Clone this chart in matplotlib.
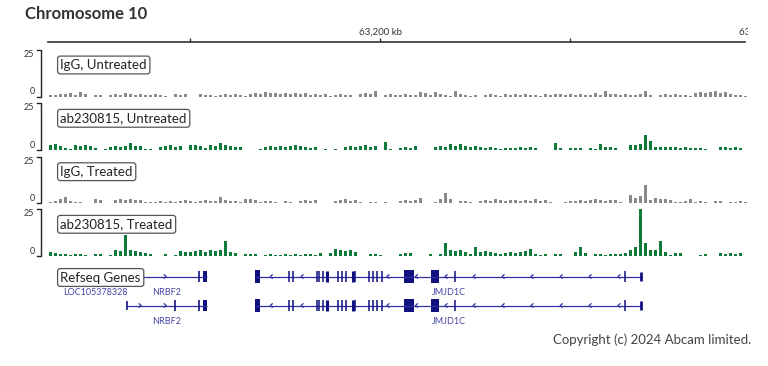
import numpy as np
import matplotlib
matplotlib.use("Agg")
import matplotlib.pyplot as plt
from matplotlib.patches import Rectangle
import matplotlib.transforms as mtransforms

plt.rcParams['font.family'] = ['Lato', 'DejaVu Sans']

# ---- data (kb on chr10, signal 0-25) ----
X_START, X_END = 63112.6, 63296.8
N_BINS = 140

igg_untreated = [
    1, 1, 1.5, 1.5, 2, 1, 2.5, 1.5, 0, 1, 1, 0, 1, 1.5, 1, 2, 1.5, 1, 1.5, 1,
    1, 1.5, 1, 0.5, 0, 1.5, 1, 1.5, 0, 0, 1.5, 1, 1, 0.5, 1, 1.5, 1, 1.5, 1, 0.5,
    1.5, 2, 1.5, 2.5, 2, 2, 1.5, 2, 1.5, 2, 1.5, 2, 1, 1.5, 1, 1.5, 0.5, 1, 1.5, 1,
    1, 0, 1.5, 2, 1.5, 3, 0, 1, 1.5, 1, 1, 1.5, 1, 1, 2.5, 2, 1, 2.5, 1.5, 1,
    0.5, 3, 1.5, 1, 0.5, 1, 0, 1, 1.5, 1, 0.5, 1.5, 1, 1.5, 1, 1.5, 1, 1, 0.5, 1.5,
    1, 1.5, 1.5, 1, 1.5, 1, 1.5, 1, 1, 2, 1, 3, 1.5, 1.5, 1, 1.5, 1, 1, 1.5, 3,
    1, 0, 1, 1.5, 1, 1.5, 1, 1, 0.5, 2, 2.5, 2, 2.5, 3, 2, 2.5, 1.5, 1, 1, 0.5,
]
ab_untreated = [
    2.5, 3, 2, 1, 0.5, 2.5, 2, 2.5, 2, 1, 0, 0.5, 1.5, 2, 1.5, 2, 4, 2, 2, 0.5,
    0.5, 0, 1.5, 2, 2.5, 1.5, 2, 0, 2.5, 2.5, 2, 1, 2.5, 2, 3.5, 2.5, 2, 1.5, 1.5, 0,
    0, 0, 0.5, 1.5, 2, 1.5, 2, 1.5, 2, 2.5, 2, 1.5, 1, 1.5, 0, 0.5, 0, 0.5, 0, 1.5,
    2, 1.5, 2, 2.5, 1.5, 2, 0, 4.5, 0.5, 0, 1, 1.5, 1, 2, 0, 0, 0, 1.5, 2, 1.5,
    3, 2, 3, 2, 1.5, 2, 1.5, 1, 1.5, 1, 0.5, 1, 1, 1, 1.5, 1, 1.5, 1, 0, 0,
    0, 3.5, 1, 0, 1, 1, 1, 0, 1, 0.5, 3, 1.5, 1.5, 1, 0, 0, 2.5, 2.5, 3, 8,
    5, 1.5, 1.5, 1.5, 1.5, 1.5, 1, 1.5, 1, 1, 1, 0.5, 0, 0, 1.5, 1.5, 1, 1.5, 1, 0,
]
igg_treated = [
    1, 1.5, 2.5, 3.5, 1.5, 1, 0.5, 0, 0, 2.5, 2, 0, 0, 2, 2.5, 2, 2.5, 2, 2, 1,
    0.5, 1, 1.5, 1, 1.5, 1, 1.5, 2, 1.5, 1, 1.5, 2, 1.5, 1.5, 3.5, 2, 1.5, 1.5, 1, 2.5,
    2.5, 2, 0.5, 1.5, 1.5, 1, 0, 1.5, 1, 0, 1.5, 2, 1.5, 2, 0, 0, 0, 1.5, 2, 2.5,
    1.5, 2, 0.5, 0, 1, 1, 0, 1, 0, 0, 1.5, 2, 1.5, 2, 3, 0, 0, 1, 2.5, 5.5,
    2.5, 0, 1.5, 1.5, 1, 0, 1.5, 2, 1.5, 2.5, 2, 1.5, 2, 2, 1.5, 2, 1.5, 2.5, 1.5, 2,
    1, 0, 0, 1, 1.5, 1.5, 2, 1.5, 2, 2.5, 2, 1.5, 2, 2, 1, 0, 4.5, 3, 4, 10,
    2, 3, 2.5, 2.5, 2, 0.5, 1, 1.5, 2.5, 1, 1.5, 0.5, 0, 1.5, 1.5, 0, 1, 1, 1.5, 0.5,
]
ab_treated = [
    2, 1.5, 1, 1, 0.5, 1, 1, 0.5, 0, 1, 1, 0, 0.5, 3, 2.5, 11, 3, 2.5, 2, 1.5,
    1, 0, 0, 1, 0, 0.5, 2.5, 2, 2, 2.5, 3, 2, 3, 2.5, 3, 8, 2, 1.5, 0, 1,
    1, 1, 0, 0.5, 1, 0.5, 0.5, 1, 0.5, 1, 0.5, 1, 1, 0.5, 1.5, 0, 1.5, 4, 3, 2.5,
    3, 2, 0, 0, 1, 1, 0.5, 0, 0, 0, 1, 1.5, 1.5, 0, 0, 0, 1, 0, 1, 7,
    3, 2.5, 3, 2, 1, 5, 2, 2.5, 2, 1.5, 1, 1.5, 2, 1.5, 2, 2.5, 4, 1, 0.5, 1,
    0, 1, 1, 0, 0, 2, 5, 1.5, 0, 1, 1, 0.5, 1, 1, 1, 1.5, 3, 5, 25, 7,
    3, 3, 8, 2, 0.5, 1.5, 1.5, 0, 0, 0, 0.5, 1, 0, 0, 1.5, 1, 1.5, 1, 1.5, 0,
]

track_names = ["IgG, Untreated", "ab230815, Untreated", "IgG, Treated", "ab230815, Treated"]
track_values = [igg_untreated, ab_untreated, igg_treated, ab_treated]
track_colors = ["#8a8a8a", "#0d7a3a", "#8a8a8a", "#0d7a3a"]

ruler_ticks = [63150, 63200, 63250]
ruler_labels = [(63200, "63,200 kb"), (63300, "63,300 kb")]

# refseq genes (kb)
nrbf2_span = (63133.4, 63154.5)
nrbf2_exons = [[63152.4], [63146.1, 63152.4]]
nrbf2_block = (63153.4, 63154.5)
nrbf2_arrows = [[63143.7], [63137.1, 63143.7]]

jmjd1c_span = (63167.4, 63268.7)
jmjd1c_blocks = [(63167.1, 63168.4), (63206.3, 63209.0), (63213.4, 63215.5)]
jmjd1c_exons = [63176.1, 63177.1, 63183.4, 63184.0, 63185.0, 63189.0, 63190.0,
                63191.1, 63193.4, 63197.1, 63198.2, 63199.2, 63200.5, 63219.7, 63264.5]
jmjd1c_thick = [63186.1, 63192.9]
jmjd1c_arrows = [63171.1, 63179.2, 63201.8, 63209.3, 63217.1, 63224.5, 63232.1,
                 63239.7, 63247.4, 63255.0, 63262.6]

gene_labels = [("LOC105378328", 63125.0, 0), ("NRBF2", 63143.9, 0), ("JMJD1C", 63218.2, 0),
               ("NRBF2", 63143.9, 1), ("JMJD1C", 63218.2, 1)]

# ---- layout helpers (pixel coords) ----
W, H = 768, 366
fig = plt.figure(figsize=(W / 100, H / 100), dpi=100)


def px_axes(x0, y0, x1, y1, **kw):
    ax = fig.add_axes([x0 / W, 1 - y1 / H, (x1 - x0) / W, (y1 - y0) / H], **kw)
    ax.patch.set_alpha(0)
    return ax


edges = np.linspace(X_START, X_END, N_BINS + 1)
centers = (edges[:-1] + edges[1:]) / 2
bw = edges[1] - edges[0]

track_tops = [50, 103.3, 156.7, 209.3]
track_h = 46.7

deco = px_axes(0, 0, W, H)
deco.set_xlim(0, W)
deco.set_ylim(H, 0)
deco.axis('off')
deco.set_zorder(5)

for name, vals, col, top in zip(track_names, track_values, track_colors, track_tops):
    ax = px_axes(48, top, 748, top + track_h)
    ax.bar(centers, np.minimum(vals, 25), width=bw * 0.55, color=col, linewidth=0)
    ax.set_xlim(X_START, X_END)
    ax.set_ylim(0, 25)
    ax.axis('off')
    # scale bracket
    bot = top + track_h
    deco.plot([36.7, 40.7, 40.7, 36.7], [top, top, bot, bot], color='#222', lw=1)
    deco.text(34, top + 4.5, "25", ha='right', va='center', fontsize=6.5, color='#333')
    deco.text(35, bot - 5, "0", ha='right', va='center', fontsize=6.5, color='#333')
    deco.text(60.5, top + 15, name, ha='left', va='center', fontsize=9.5, color='#222',
              bbox=dict(boxstyle='round,pad=0.22,rounding_size=0.2', fc='white', ec='#555', lw=0.9))

# ruler (label past the right edge is clipped, as in the browser view)
rx1 = 748
rax = px_axes(48, 22, rx1, 42)
rax.set_xlim(X_START, X_START + (rx1 - 48) / 5 * bw)
for s in ['top', 'left', 'right']:
    rax.spines[s].set_visible(False)
rax.spines['bottom'].set_color('#333')
rax.spines['bottom'].set_linewidth(1.2)
rax.spines['bottom'].set_bounds(X_START, X_START + (745 - 48) / 5 * bw)
rax.set_yticks([])
rax.set_xticks(ruler_ticks)
rax.tick_params(axis='x', direction='in', length=3, width=1, color='#333', labelbottom=False)
trans = mtransforms.blended_transform_factory(rax.transData, rax.transAxes)
for pos, lab in ruler_labels:
    rax.text(pos, 0.5, lab, transform=trans, ha='center', va='center', fontsize=7,
             color='#333', clip_on=True)

# genes
line_c = '#3030a5'
exon_c = '#101080'
label_c = '#4545aa'
gax = px_axes(48, 262, 748, 320)
gax.set_xlim(X_START, X_END)
gax.set_ylim(1.5, -0.5)
gax.axis('off')
adx = 0.5
for row in (0, 1):
    # NRBF2 (+ strand)
    gax.hlines(row, *nrbf2_span, color=line_c, lw=0.9)
    gax.vlines(nrbf2_span[0], row - 0.14, row + 0.14, color=exon_c, lw=1.2)
    gax.vlines(nrbf2_exons[row], row - 0.18, row + 0.18, color=exon_c, lw=1.2)
    gax.add_patch(Rectangle((nrbf2_block[0], row - 0.2), nrbf2_block[1] - nrbf2_block[0], 0.4,
                            color=exon_c, lw=0))
    for a in nrbf2_arrows[row]:
        gax.plot([a - adx, a, a - adx], [row - 0.06, row, row + 0.06], color=line_c, lw=0.9)
    # JMJD1C (- strand)
    gax.hlines(row, *jmjd1c_span, color=line_c, lw=0.9)
    gax.vlines(jmjd1c_span[1], row - 0.16, row + 0.16, color=exon_c, lw=2)
    gax.vlines(jmjd1c_exons, row - 0.18, row + 0.18, color=exon_c, lw=1.1)
    gax.vlines(jmjd1c_thick, row - 0.18, row + 0.18, color=exon_c, lw=2.2)
    for x0, x1 in jmjd1c_blocks:
        gax.add_patch(Rectangle((x0, row - 0.22), x1 - x0, 0.44, color=exon_c, lw=0))
    for a in jmjd1c_arrows:
        gax.plot([a + adx, a, a + adx], [row - 0.06, row, row + 0.06], color=line_c, lw=0.9)

for lab, x, row in gene_labels:
    gax.text(x, row + 0.55, lab, ha='center', va='center', fontsize=6.5, color=label_c)

deco.text(60.5, 277.5, "Refseq Genes", ha='left', va='center', fontsize=9.5, color='#222',
          bbox=dict(boxstyle='round,pad=0.22,rounding_size=0.2', fc='white', ec='#555', lw=0.9))

fig.text(25 / W, 1 - 14 / H, "Chromosome 10", fontsize=12, fontweight='bold', color='#333',
         ha='left', va='center')
fig.text(751 / W, 1 - 340 / H, "Copyright (c) 2024 Abcam limited.", fontsize=9.5, color='#444',
         ha='right', va='center')

fig.savefig("out.png", dpi=100)
